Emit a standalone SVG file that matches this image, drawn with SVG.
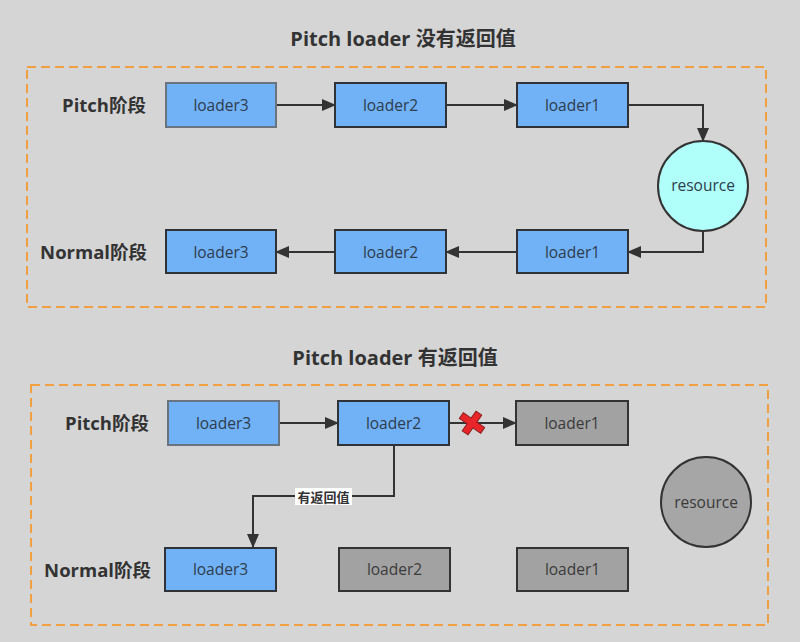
<svg xmlns="http://www.w3.org/2000/svg" width="800" height="642" viewBox="0 0 800 642">
<defs>
<marker id="arr" markerUnits="userSpaceOnUse" markerWidth="14" markerHeight="12" refX="13" refY="6" orient="auto">
<path d="M0,0 L14,6 L0,12 Z" fill="#333"/>
</marker>
<style>
.title{font-family:"Open Sans","Noto Sans CJK SC",sans-serif;font-weight:bold;font-size:20px;fill:#333;text-anchor:middle}
.phase{font-family:"Open Sans","Noto Sans CJK SC",sans-serif;font-weight:bold;font-size:18.5px;fill:#333;text-anchor:end}
.frame{fill:none;stroke:#f0a040;stroke-width:2;stroke-dasharray:9 5}
.blue{fill:#71b1f6;stroke:#2f3338;stroke-width:2}
.blue2{fill:#71b1f6;stroke:#6a747e;stroke-width:2}
.gray{fill:#a2a2a2;stroke:#333;stroke-width:2}
.lbl{font-family:"Open Sans","Noto Sans CJK SC",sans-serif;font-size:15.5px;fill:#2e3c4c;text-anchor:middle}
.glbl{font-family:"Open Sans","Noto Sans CJK SC",sans-serif;font-size:15.5px;fill:#3a3a3a;text-anchor:middle}
.conn{fill:none;stroke:#333;stroke-width:2}
</style>
</defs>
<rect width="800" height="642" fill="#d5d5d5"/>

<text class="title" x="403" y="46">Pitch loader 没有返回值</text>
<text class="title" x="395" y="365">Pitch loader 有返回值</text>
<rect class="frame" x="27" y="67" width="739" height="240"/>
<rect class="frame" x="31" y="385" width="737" height="240"/>

<text class="phase" x="146" y="112">Pitch阶段</text>
<text class="phase" x="147" y="259">Normal阶段</text>
<text class="phase" x="149" y="430">Pitch阶段</text>
<text class="phase" x="151" y="577">Normal阶段</text>

<g id="connectors">
<path class="conn" d="M276,105 H335" marker-end="url(#arr)"/>
<path class="conn" d="M446,105 H517" marker-end="url(#arr)"/>
<path class="conn" d="M628,105 H703 V141" marker-end="url(#arr)"/>
<path class="conn" d="M703,231 V252 H628" marker-end="url(#arr)"/>
<path class="conn" d="M517,252 H446" marker-end="url(#arr)"/>
<path class="conn" d="M335,252 H276" marker-end="url(#arr)"/>
<path class="conn" d="M279,423 H338" marker-end="url(#arr)"/>
<path class="conn" d="M449,423 H516" marker-end="url(#arr)"/>
<path class="conn" d="M394,445 V496 H253 V547" marker-end="url(#arr)"/>
<rect x="295" y="488" width="57" height="17" fill="#ffffff"/>
<text x="323.5" y="501.5" font-family="'Noto Sans CJK SC',sans-serif" font-size="13" font-weight="bold" fill="#333" text-anchor="middle">有返回值</text>
<g id="cross" transform="translate(472,423) rotate(35)">
<path d="M-13,-3.5 H-3.5 V-12 H3.5 V-3.5 H13 V3.5 H3.5 V12 H-3.5 V3.5 H-13 Z" fill="#e8262a" stroke="#8a1a1a" stroke-width="1"/>
</g>
</g>

<g id="p1-loader3"><rect class="blue2" x="166" y="83" width="110" height="44"/><text class="lbl" x="221" y="111">loader3</text></g>
<g id="p1-loader2"><rect class="blue" x="335" y="83" width="111" height="44"/><text class="lbl" x="390.5" y="111">loader2</text></g>
<g id="p1-loader1"><rect class="blue" x="517" y="83" width="111" height="44"/><text class="lbl" x="572.5" y="111">loader1</text></g>
<g id="p1-resource"><circle cx="703" cy="186" r="45" fill="#b0fffb" stroke="#333" stroke-width="2"/><text class="lbl" x="703" y="191" font-size="14">resource</text></g>
<g id="n1-loader3"><rect class="blue" x="166" y="230" width="110" height="43"/><text class="lbl" x="221" y="258">loader3</text></g>
<g id="n1-loader2"><rect class="blue" x="335" y="230" width="111" height="43"/><text class="lbl" x="390.5" y="258">loader2</text></g>
<g id="n1-loader1"><rect class="blue" x="517" y="230" width="111" height="43"/><text class="lbl" x="572.5" y="258">loader1</text></g>

<g id="p2-loader3"><rect class="blue2" x="168" y="401" width="111" height="44"/><text class="lbl" x="223.5" y="429">loader3</text></g>
<g id="p2-loader2"><rect class="blue" x="338" y="401" width="111" height="44"/><text class="lbl" x="393.5" y="429">loader2</text></g>
<g id="p2-loader1"><rect class="gray" x="516" y="401" width="112" height="44"/><text class="glbl" x="572" y="429">loader1</text></g>
<g id="p2-resource"><circle cx="706" cy="502" r="45" fill="#a6a6a6" stroke="#333" stroke-width="2"/><text class="glbl" x="706" y="508" font-size="14">resource</text></g>
<g id="n2-loader3"><rect class="blue" x="165" y="548" width="111" height="43"/><text class="lbl" x="220.5" y="575">loader3</text></g>
<g id="n2-loader2"><rect class="gray" x="339" y="548" width="111" height="43"/><text class="glbl" x="394.5" y="575">loader2</text></g>
<g id="n2-loader1"><rect class="gray" x="517" y="548" width="111" height="43"/><text class="glbl" x="572.5" y="575">loader1</text></g>
</svg>
